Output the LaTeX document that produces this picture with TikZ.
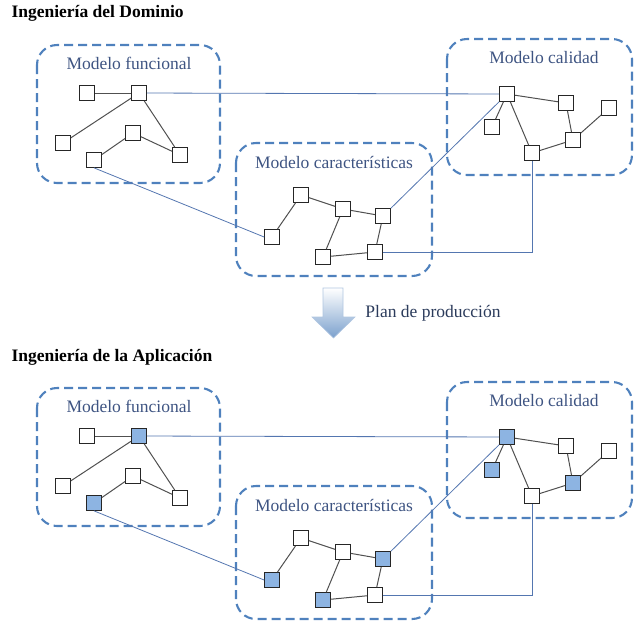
\documentclass[tikz,border=0pt]{standalone}
\usepackage{fontspec}
\setmainfont{Liberation Serif}
\definecolor{boxblue}{RGB}{79,129,189}
\definecolor{linkblue}{RGB}{84,118,176}
\definecolor{selfill}{RGB}{141,180,226}
\definecolor{lblblue}{RGB}{62,84,130}
\definecolor{edgegray}{RGB}{80,80,80}
\begin{document}
\begin{tikzpicture}[x=1pt, y=-1pt,
	main/.style = {draw=black!85, line width=1.2pt, fill=white, minimum size=14.5pt, inner sep=0pt},
	sel/.style = {main, fill=selfill},
	grp/.style = {draw=boxblue, line width=2.1pt, dash pattern=on 9pt off 5pt, rounded corners=20pt},
	lbl/.style = {text=lblblue, font=\fontsize{17.5}{20}\selectfont},
	ttl/.style = {anchor=west, font=\bfseries\fontsize{17.5}{20}\selectfont},
	gr/.style = {draw=edgegray, line width=1pt},
	link/.style = {draw=linkblue, line width=0.8pt}]
		\useasboundingbox (0,0) rectangle (635,625);
		% Ingenieria del Dominio
		\node[ttl] (t1) at (8,13) {Ingeniería del Dominio};
		\draw[grp] (37,45) rectangle (220,183);
		\draw[grp] (236,143) rectangle (432,276);
		\draw[grp] (447,39) rectangle (632,175);
		\node[lbl] (lf1) at (129,63) {Modelo funcional};
		\node[lbl] (lc1) at (334,162) {Modelo características};
		\node[lbl] (lq1) at (544,58) {Modelo calidad};
		\node[main] (f1) at (87,93) {};
		\node[main] (f2) at (139,93) {};
		\node[main] (f3) at (63,143) {};
		\node[main] (f4) at (133,133) {};
		\node[main] (f5) at (94,160) {};
		\node[main] (f6) at (180,155) {};
		\node[main] (c1) at (272,237) {};
		\node[main] (c2) at (301,195) {};
		\node[main] (c3) at (343,209) {};
		\node[main] (c4) at (383,216) {};
		\node[main] (c5) at (323,257) {};
		\node[main] (c6) at (375,252) {};
		\node[main] (q1) at (507,94) {};
		\node[main] (q2) at (566,103) {};
		\node[main] (q3) at (609,108) {};
		\node[main] (q4) at (492,127) {};
		\node[main] (q5) at (532,153) {};
		\node[main] (q6) at (573,140) {};
		\path[gr]
		(f1) edge (f2) (f2) edge (f3)
		(f2) edge (f6) (f4) edge (f5)
		(f4) edge (f6)
		(c1) edge (c2) (c2) edge (c3)
		(c3) edge (c4) (c3) edge (c5)
		(c5) edge (c6) (c6) edge (c4)
		(q1) edge (q2) (q2) edge (q6)
		(q6) edge (q3) (q1) edge (q4)
		(q1) edge (q5) (q5) edge (q6);
		\draw[link] (f2) -- (q1);
		\draw[link] (f5.south) -- (c1.west);
		\draw[link] (c4) -- (q1);
		\draw[link] (c6) -| (q5);
		% Plan de produccion
		\shade[top color=white, bottom color=boxblue!75, draw=boxblue!45, line width=0.6pt]
		(323,288) -- (343,288) -- (343,317) -- (355,317) -- (333.5,338)
		-- (312,317) -- (323,317) -- cycle;
		\node[lbl, text=lblblue!70!black] (plan) at (433,313) {Plan de producción};
		% Ingenieria de la Aplicacion
		\node[ttl] (t2) at (8,357) {Ingeniería de la Aplicación};
		\draw[grp] (37,388) rectangle (220,526);
		\draw[grp] (236,486) rectangle (432,619);
		\draw[grp] (447,382) rectangle (632,518);
		\node[lbl] (lf2) at (129,406) {Modelo funcional};
		\node[lbl] (lc2) at (334,505) {Modelo características};
		\node[lbl] (lq2) at (544,401) {Modelo calidad};
		\node[main] (bf1) at (87,436) {};
		\node[sel] (bf2) at (139,436) {};
		\node[main] (bf3) at (63,486) {};
		\node[main] (bf4) at (133,476) {};
		\node[sel] (bf5) at (94,503) {};
		\node[main] (bf6) at (180,498) {};
		\node[sel] (bc1) at (272,580) {};
		\node[main] (bc2) at (301,538) {};
		\node[main] (bc3) at (343,552) {};
		\node[sel] (bc4) at (383,559) {};
		\node[sel] (bc5) at (323,600) {};
		\node[main] (bc6) at (375,595) {};
		\node[sel] (bq1) at (507,437) {};
		\node[main] (bq2) at (566,446) {};
		\node[main] (bq3) at (609,451) {};
		\node[sel] (bq4) at (492,470) {};
		\node[main] (bq5) at (532,496) {};
		\node[sel] (bq6) at (573,483) {};
		\path[gr]
		(bf1) edge (bf2) (bf2) edge (bf3)
		(bf2) edge (bf6) (bf4) edge (bf5)
		(bf4) edge (bf6)
		(bc1) edge (bc2) (bc2) edge (bc3)
		(bc3) edge (bc4) (bc3) edge (bc5)
		(bc5) edge (bc6) (bc6) edge (bc4)
		(bq1) edge (bq2) (bq2) edge (bq6)
		(bq6) edge (bq3) (bq1) edge (bq4)
		(bq1) edge (bq5) (bq5) edge (bq6);
		\draw[link] (bf2) -- (bq1);
		\draw[link] (bf5.south) -- (bc1.west);
		\draw[link] (bc4) -- (bq1);
		\draw[link] (bc6) -| (bq5);
	\end{tikzpicture}
\end{document}
